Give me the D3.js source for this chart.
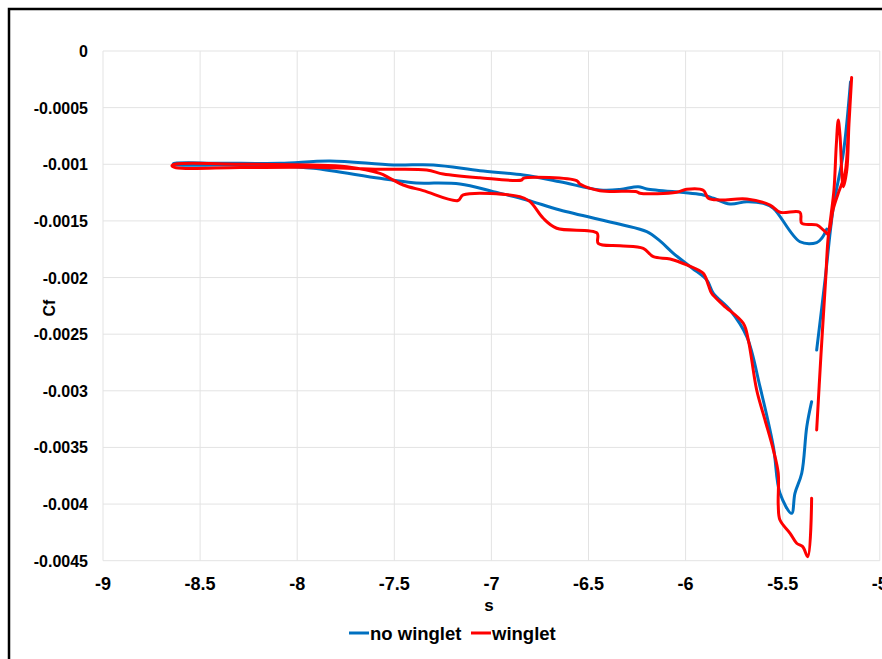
<!DOCTYPE html>
<html><head><meta charset="utf-8">
<script src="https://cdn.jsdelivr.net/npm/d3@7"></script>
<style>
body{margin:0;background:#fff}
text{font-family:"Liberation Sans",Arial,sans-serif;font-weight:bold;fill:#000}
</style>
</head><body>
<svg id="c" width="882" height="659"></svg>
<script>
const xTicks = [-9, -8.5, -8, -7.5, -7, -6.5, -6, -5.5, -5];
const yTicks = [0, -0.0005, -0.001, -0.0015, -0.002, -0.0025, -0.003, -0.0035, -0.004, -0.0045];
const xLabel = "s";
const yLabel = "Cf";
const seriesNames = ["no winglet", "winglet"];
const seriesColors = ["#0070C0", "#FF0000"];

// [s, Cf] pairs; null = break in the line
const noWinglet = [
 [-5.351,-0.003096],[-5.376,-0.003317],[-5.402,-0.003728],[-5.437,-0.003905],[-5.454,-0.004082],
 [-5.514,-0.003905],[-5.548,-0.003494],[-5.617,-0.002964],[-5.685,-0.002522],[-5.771,-0.002287],
 [-5.857,-0.002139],[-5.891,-0.002022],[-5.967,-0.001916],[-6.063,-0.001786],[-6.132,-0.001677],
 [-6.200,-0.001595],[-6.338,-0.001530],[-6.647,-0.001404],[-6.818,-0.001315],[-6.990,-0.001242],
 [-7.162,-0.001174],[-7.402,-0.001163],[-7.574,-0.001124],[-7.917,-0.001036],[-8.089,-0.001015],
 [-8.398,-0.001006],[-8.634,-0.001002],[-8.637,-0.000993],[-8.398,-0.000991],[-8.089,-0.000991],
 [-7.831,-0.000971],[-7.505,-0.001006],[-7.299,-0.001006],[-7.059,-0.001057],[-6.836,-0.001095],
 [-6.647,-0.001154],[-6.441,-0.001227],[-6.338,-0.001223],[-6.244,-0.001198],[-6.200,-0.001218],
 [-5.909,-0.001271],[-5.857,-0.001300],[-5.771,-0.001351],[-5.685,-0.001330],[-5.600,-0.001345],
 [-5.548,-0.001389],[-5.411,-0.001684],[-5.325,-0.001692],[-5.298,-0.001651],[-5.273,-0.001572],
 null,
 [-5.325,-0.002640],[-5.282,-0.002022],[-5.239,-0.001375],[-5.188,-0.000903],[-5.151,-0.000274]
];

const winglet = [
 [-5.351,-0.003949],[-5.371,-0.004465],[-5.397,-0.004376],[-5.428,-0.004346],[-5.462,-0.004258],
 [-5.514,-0.004141],[-5.523,-0.004008],[-5.523,-0.003728],[-5.548,-0.003523],[-5.591,-0.003258],
 [-5.634,-0.002993],[-5.677,-0.002552],[-5.703,-0.002404],[-5.806,-0.002243],[-5.866,-0.002139],
 [-5.883,-0.002066],[-5.909,-0.001963],[-5.994,-0.001889],[-6.080,-0.001836],[-6.166,-0.001816],
 [-6.218,-0.001742],[-6.338,-0.001719],[-6.450,-0.001698],[-6.456,-0.001607],[-6.664,-0.001565],
 [-6.733,-0.001477],[-6.801,-0.001330],[-6.853,-0.001286],[-7.145,-0.001271],[-7.172,-0.001320],
 [-7.351,-0.001233],[-7.454,-0.001183],[-7.522,-0.001124],[-7.574,-0.001080],[-7.745,-0.001021],
 [-7.934,-0.001006],[-8.295,-0.000999],[-8.624,-0.000998],[-8.645,-0.001014],[-8.624,-0.001031],
 [-8.295,-0.001029],[-7.917,-0.001027],[-7.574,-0.001044],[-7.333,-0.001051],[-7.248,-0.001086],
 [-7.059,-0.001119],[-6.844,-0.001139],[-6.836,-0.001124],[-6.561,-0.001145],[-6.544,-0.001174],
 [-6.441,-0.001233],[-6.252,-0.001242],[-6.235,-0.001256],[-6.046,-0.001247],[-5.994,-0.001221],
 [-5.909,-0.001230],[-5.883,-0.001300],[-5.823,-0.001315],[-5.685,-0.001307],[-5.565,-0.001360],
 [-5.514,-0.001424],[-5.411,-0.001424],[-5.402,-0.001521],[-5.325,-0.001536],[-5.291,-0.001580],
 [-5.265,-0.001625],
 null,
 [-5.325,-0.003346],[-5.303,-0.002684],[-5.279,-0.002022],[-5.267,-0.001669],[-5.251,-0.001448],
 [-5.236,-0.001227],[-5.224,-0.000830],[-5.214,-0.000609],[-5.205,-0.000742],[-5.188,-0.001198],
 [-5.170,-0.001051],[-5.159,-0.000653],[-5.145,-0.000234],[-5.156,-0.000521],[-5.162,-0.000697],
 [-5.179,-0.001080],[-5.214,-0.001256],[-5.241,-0.001404],[-5.256,-0.001563],[-5.265,-0.001625]
];

const svg = d3.select("#c");
const x = d3.scaleLinear().domain([-9, -5]).range([103, 879.8]);
const y = d3.scaleLinear().domain([-0.0045, 0]).range([560.7, 51]);

// outer frame
svg.append("rect").attr("x", 9).attr("y", 9).attr("width", 900).attr("height", 700)
  .attr("fill", "none").attr("stroke", "#000").attr("stroke-width", 2.5);

// gridlines
svg.append("g").selectAll("line").data(xTicks).join("line")
  .attr("x1", d => x(d)).attr("x2", d => x(d)).attr("y1", y(0)).attr("y2", y(-0.0045))
  .attr("stroke", "#e3e3e3").attr("stroke-width", 1);
svg.append("g").selectAll("line").data(yTicks).join("line")
  .attr("x1", x(-9)).attr("x2", x(-5)).attr("y1", d => y(d)).attr("y2", d => y(d))
  .attr("stroke", "#e3e3e3").attr("stroke-width", 1);

// y tick labels
svg.append("g").selectAll("text").data(yTicks).join("text")
  .attr("x", 88).attr("y", d => y(d) + 6)
  .attr("text-anchor", "end").style("font-size", "16px")
  .text(d => String(d));

// x tick labels
svg.append("g").selectAll("text").data(xTicks).join("text")
  .attr("x", d => x(d)).attr("y", 590)
  .attr("text-anchor", "middle").style("font-size", "18px")
  .text(d => String(d));

// axis titles
svg.append("text").attr("x", 489).attr("y", 611).attr("text-anchor", "middle")
  .style("font-size", "17px").text(xLabel);
svg.append("text").attr("transform", "translate(55,308) rotate(-90)").attr("text-anchor", "middle")
  .style("font-size", "16px").text(yLabel);

// lines
const line = d3.line().defined(d => d !== null)
  .x(d => x(d[0])).y(d => y(d[1]))
  .curve(d3.curveCatmullRom.alpha(0.5));
[noWinglet, winglet].forEach((data, i) => {
  svg.append("path").datum(data).attr("d", line)
    .attr("fill", "none").attr("stroke", seriesColors[i])
    .attr("stroke-width", 3).attr("stroke-linejoin", "round").attr("stroke-linecap", "round");
});

// legend
const legendPos = [349, 471];
seriesNames.forEach((name, i) => {
  const g = svg.append("g");
  g.append("line").attr("x1", legendPos[i]).attr("x2", legendPos[i] + 20)
    .attr("y1", 633).attr("y2", 633).attr("stroke", seriesColors[i]).attr("stroke-width", 3);
  g.append("text").attr("x", legendPos[i] + 21).attr("y", 640)
    .style("font-size", "18.5px").text(name);
});
</script>
</body></html>
